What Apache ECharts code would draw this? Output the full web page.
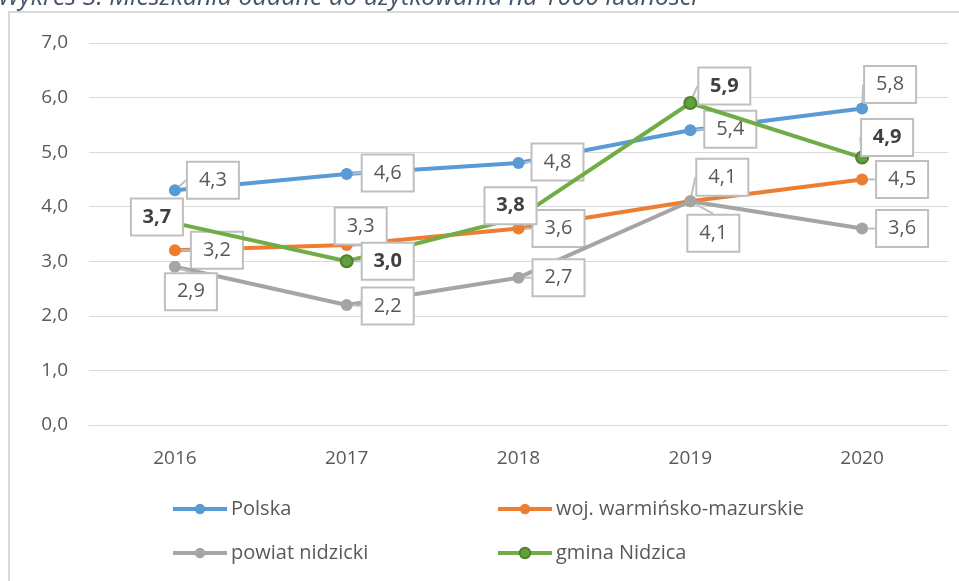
<!DOCTYPE html>
<html>
<head>
<meta charset="utf-8">
<script src="https://cdn.jsdelivr.net/npm/echarts@6/dist/echarts.min.js"></script>
<style>html,body{margin:0;padding:0;background:#fff;}#c{width:959px;height:581px;}</style>
</head>
<body>
<div id="c"></div>
<script>
const titleText = 'Wykres 3. Mieszkania oddane do użytkowania na 1000 ludności';
const years = ['2016', '2017', '2018', '2019', '2020'];
const seriesNames = ['Polska', 'woj. warmińsko-mazurskie', 'powiat nidzicki', 'gmina Nidzica'];
const polska = [4.3, 4.6, 4.8, 5.4, 5.8];
const woj = [3.2, 3.3, 3.6, 4.1, 4.5];
const powiat = [2.9, 2.2, 2.7, 4.1, 3.6];
const gmina = [3.7, 3.0, 3.8, 5.9, 4.9];

// label callout offsets (layout only)
const labelOffsets = [
  [[38, -10], [41, -1], [39, -1], [40, -1], [28, -24]],
  [[42, 0], [14, -19], [40, 0], [32, -24], [40, 0]],
  [[16, 25], [41, 1], [40, 0], [23, 32], [40, 0]],
  [[-18, -6], [41, 0], [-8, -12], [34, -17], [25, -20]]
];
const colors = ['#5B9BD5', '#ED7D31', '#A5A5A5', '#70AD47'];
const FONT = '"Open Sans", sans-serif';
const fmt = v => v.toFixed(1).replace('.', ',');

const chart = echarts.init(document.getElementById('c'), null, {renderer: 'canvas'});

function mkSeries(i, data) {
  const bold = i === 3;
  return {
    name: seriesNames[i],
    type: 'line',
    data: data,
    symbol: 'circle',
    symbolSize: 12,
    lineStyle: {width: 4, color: colors[i]},
    itemStyle: bold ? {color: '#62A03A', borderColor: '#4F7F30', borderWidth: 2} : {color: colors[i]},
    label: {
      show: true,
      position: 'inside',
      formatter: p => fmt(p.value),
      fontFamily: FONT,
      fontSize: 20,
      lineHeight: 24,
      fontWeight: bold ? 'bold' : 'normal',
      color: bold ? '#404040' : '#595959',
      backgroundColor: '#fff',
      borderColor: '#BFBFBF',
      borderWidth: 2,
      padding: [6, 10, 5, 10],
      width: 30,
      align: 'center'
    },
    labelLine: {show: true, lineStyle: {color: '#BFBFBF', width: 2}},
    labelLayout: function (params) {
      const o = labelOffsets[i][params.dataIndex];
      return {dx: o[0], dy: o[1]};
    },
    emphasis: {disabled: true},
    z: 2 + i
  };
}

const legendBase = {
  padding: 0,
  itemWidth: 54,
  itemHeight: 13,
  itemGap: 5,
  lineStyle: {width: 4},
  textStyle: {fontFamily: FONT, fontSize: 20, color: '#595959', padding: [0, 0, 0, -1]},
  selectedMode: false
};

chart.setOption({
  animation: false,
  backgroundColor: '#fff',
  color: colors,
  grid: {left: 89, right: 11, top: 43, bottom: 156, containLabel: false},
  xAxis: {
    type: 'category',
    data: years,
    boundaryGap: true,
    axisLine: {show: true, lineStyle: {color: '#D9D9D9', width: 1}},
    axisTick: {show: false},
    axisLabel: {fontFamily: FONT, fontSize: 19, color: '#595959', margin: 24}
  },
  yAxis: {
    type: 'value',
    min: 0,
    max: 7,
    interval: 1,
    axisLine: {show: false},
    axisTick: {show: false},
    splitLine: {lineStyle: {color: '#D9D9D9', width: 1}},
    axisLabel: {fontFamily: FONT, fontSize: 19, color: '#595959', margin: 21, formatter: v => fmt(v)}
  },
  legend: [
    Object.assign({data: [seriesNames[0]], left: 171, top: 499}, legendBase),
    Object.assign({data: [seriesNames[1]], left: 496, top: 499}, legendBase),
    Object.assign({data: [seriesNames[2]], left: 171, top: 543}, legendBase),
    Object.assign({data: [seriesNames[3]], left: 496, top: 543}, legendBase)
  ],
  graphic: [
    {
      type: 'rect',
      shape: {x: 9, y: 12, width: 960, height: 600},
      style: {fill: 'none', stroke: '#D9D9D9', lineWidth: 2},
      silent: true, z: -1
    },
    {
      type: 'text',
      x: -2, y: -2,
      style: {text: titleText, fontFamily: FONT, fontStyle: 'italic', fontSize: 25, fill: '#44546A', verticalAlign: 'middle'},
      silent: true
    }
  ],
  series: [mkSeries(0, polska), mkSeries(1, woj), mkSeries(2, powiat), mkSeries(3, gmina)]
});
</script>
</body>
</html>
